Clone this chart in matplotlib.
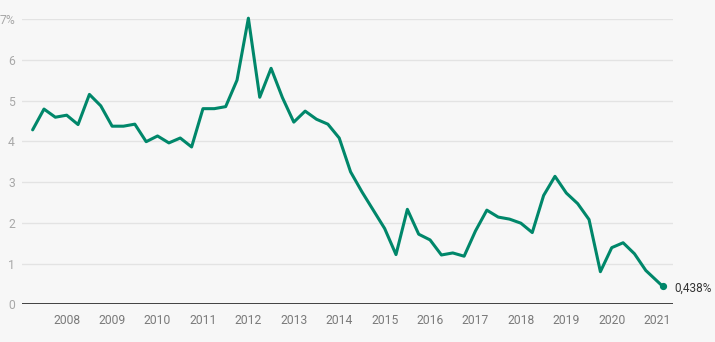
import matplotlib
matplotlib.use("Agg")
import matplotlib.pyplot as plt

# Data (quarterly, fractional year positions)
years = [2007.25, 2007.5, 2007.75, 2008.0, 2008.25, 2008.5, 2008.75,
         2009.0, 2009.25, 2009.5, 2009.75, 2010.0, 2010.25, 2010.5, 2010.75,
         2011.0, 2011.25, 2011.5, 2011.75, 2012.0, 2012.25, 2012.5, 2012.75,
         2013.0, 2013.25, 2013.5, 2013.75, 2014.0, 2014.25, 2014.5, 2014.75,
         2015.0, 2015.25, 2015.5, 2015.75, 2016.0, 2016.25, 2016.5, 2016.75,
         2017.0, 2017.25, 2017.5, 2017.75, 2018.0, 2018.25, 2018.5, 2018.75,
         2019.0, 2019.25, 2019.5, 2019.75, 2020.0, 2020.25, 2020.5, 2020.75,
         2021.125]
values = [4.28, 4.79, 4.59, 4.64, 4.41, 5.15, 4.87,
          4.37, 4.37, 4.42, 3.99, 4.13, 3.96, 4.08, 3.86,
          4.80, 4.80, 4.85, 5.50, 7.02, 5.08, 5.79, 5.07,
          4.47, 4.74, 4.54, 4.42, 4.08, 3.25, 2.76, 2.31,
          1.86, 1.22, 2.33, 1.72, 1.58, 1.21, 1.26, 1.18,
          1.80, 2.31, 2.14, 2.09, 1.99, 1.76, 2.67, 3.14,
          2.73, 2.47, 2.08, 0.80, 1.39, 1.51, 1.24, 0.83,
          0.438]
x_ticks = list(range(2008, 2022))
x_tick_labels = [str(y) for y in x_ticks]
y_ticks = [0, 1, 2, 3, 4, 5, 6, 7]
y_tick_labels = ["0", "1", "2", "3", "4", "5", "6", "7%"]
last_label = "0,438%"

plt.rcParams['font.family'] = ['Roboto', 'DejaVu Sans']

bg = "#f7f7f7"
fig = plt.figure(figsize=(7.15, 3.42), dpi=100, facecolor=bg)
ax = fig.add_axes([22/715, 37.7/342, 650.7/715, 285.3/342], facecolor=bg)

ax.set_xlim(2007.016, 2021.342)
ax.set_ylim(0, 7)

for y in y_ticks[1:]:
    ax.axhline(y, color="#e3e3e3", lw=1.0, zorder=1)
ax.axhline(0, color="#333333", lw=1.3, zorder=3)

line_color = "#00876a"
ax.plot(years, values, color=line_color, lw=2.2, solid_joinstyle="round",
        solid_capstyle="round", zorder=4, clip_on=False)
ax.plot([years[-1]], [values[-1]], "o", color=line_color, ms=4.2, zorder=5,
        clip_on=False)
ax.annotate(last_label, (years[-1], values[-1]), xytext=(8, -1),
            textcoords="offset points", va="center", ha="left",
            fontsize=8.5, color="#333333", annotation_clip=False)

for s in ax.spines.values():
    s.set_visible(False)

ax.set_yticks(y_ticks)
ax.set_yticklabels(y_tick_labels)
ax.set_xticks(x_ticks)
ax.set_xticklabels(x_tick_labels)
ax.tick_params(axis="y", length=0, pad=5, labelsize=8.7, labelcolor="#a8a8a8")
ax.tick_params(axis="x", length=0, pad=7, labelsize=8.7, labelcolor="#7a7a7a")

fig.savefig("out.png", dpi=100, facecolor=bg)
